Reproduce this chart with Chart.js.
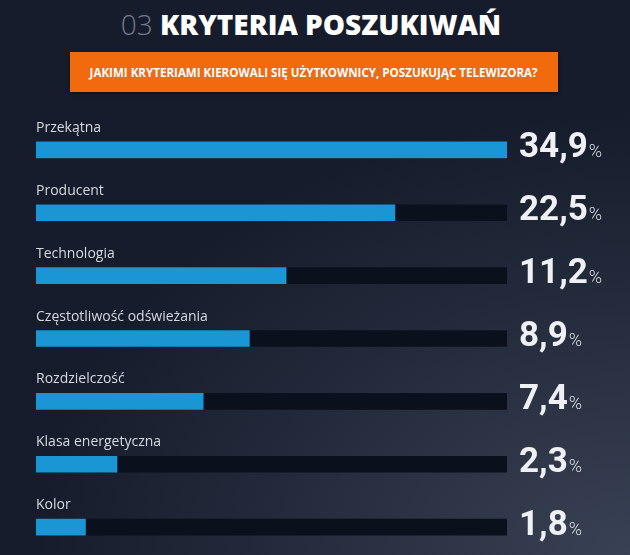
<!DOCTYPE html>
<html lang="pl">
<head>
<meta charset="utf-8">
<title>Kryteria poszukiwań</title>
<script src="https://cdn.jsdelivr.net/npm/chart.js@4.4.1/dist/chart.umd.min.js"></script>
<style>
  html, body { margin: 0; padding: 0; }
  body {
    width: 630px; height: 555px; overflow: hidden; position: relative;
    background: radial-gradient(ellipse 700px 520px at 100% 100%, #394254 0%, #252d3e 45%, #161c2b 85%);
    background-color: #161c2b;
    font-family: "Open Sans", sans-serif;
  }
  #title {
    position: absolute; top: 1px; left: 0; width: 630px;
    display: flex; justify-content: center;
    font-size: 28px; line-height: 46px; white-space: nowrap;
  }
  #title .inner { display: inline-block; margin-left: -8px; }
  #title .num { color: #6f7c92; font-weight: 300; }
  #title .txt { color: #ffffff; font-weight: 800; }
  #question {
    position: absolute; left: 70px; top: 52px; width: 488px; height: 40px;
    background: #f26a0e; box-shadow: 0 2px 3px rgba(0,0,0,0.35);
    display: flex; justify-content: center; align-items: center;
    color: #fff; font-weight: 700; font-size: 13px;
    white-space: nowrap; overflow: hidden;
  }
  #question span { display: inline-block; flex: none; transform-origin: center; }
  #wrap { position: absolute; left: 0; top: 0; width: 630px; height: 560px; }
</style>
</head>
<body>
<div id="title"><span class="inner"><span class="num">03</span> <span class="txt">KRYTERIA POSZUKIWAŃ</span></span></div>
<div id="question"><span id="qtext">JAKIMI KRYTERIAMI KIEROWALI SIĘ UŻYTKOWNICY, POSZUKUJĄC TELEWIZORA?</span></div>
<div id="wrap"><canvas id="chart"></canvas></div>
<script>
// categories and values as shown on the picture
const categories = ['Przekątna', 'Producent', 'Technologia', 'Częstotliwość odświeżania', 'Rozdzielczość', 'Klasa energetyczna', 'Kolor'];
const percentLabels = ['34,9', '22,5', '11,2', '8,9', '7,4', '2,3', '1,8'];
// filled share of each track (0-100)
const barFill = [100, 76.2, 53.1, 45.3, 35.5, 17.2, 10.5];
const trackFull = [100, 100, 100, 100, 100, 100, 100];

// squeeze the question text into the orange box like the condensed original
function fitQuestion() {
    const q = document.getElementById('qtext');
    q.style.transform = 'none';
    const qw = q.getBoundingClientRect().width;
    q.style.transform = 'scaleX(' + (448 / qw) + ')';
}
fitQuestion();
document.fonts.ready.then(fitQuestion);

const labelsPlugin = {
    id: 'rowLabels',
    afterDatasetsDraw(chart) {
        const ctx = chart.ctx;
        const y = chart.scales.y;
        ctx.save();
        categories.forEach((name, i) => {
            const cy = y.getPixelForValue(i);
            ctx.textBaseline = 'alphabetic';
            ctx.textAlign = 'left';

            ctx.fillStyle = '#d5d9e0';
            ctx.font = '400 14px "Open Sans"';
            ctx.fillText(name, 36, cy - 18);

            ctx.fillStyle = '#eef0f3';
            ctx.font = '700 35px Roboto';
            ctx.fillText(percentLabels[i], 519, cy + 7.5);
            const w = ctx.measureText(percentLabels[i]).width;
            ctx.font = '300 18px Roboto';
            ctx.fillStyle = '#d9dde3';
            ctx.fillText('%', 519 + w + 1, cy + 7.5);
        });
        ctx.restore();
    }
};

new Chart(document.getElementById('chart').getContext('2d'), {
    type: 'bar',
    data: {
        labels: categories,
        datasets: [{
            label: 'fill',
            data: barFill,
            backgroundColor: '#1a96d4',
            borderWidth: 0,
            barThickness: 16,
            grouped: false,
            order: 1
        }, {
            label: 'track',
            data: trackFull,
            backgroundColor: '#0b101d',
            borderWidth: 0,
            barThickness: 16,
            grouped: false,
            order: 2
        }]
    },
    options: {
        indexAxis: 'y',
        responsive: true,
        maintainAspectRatio: false,
        animation: false,
        layout: { padding: { left: 36, right: 123, top: 118.5, bottom: 1.5 } },
        scales: {
            x: { display: false, min: 0, max: 100 },
            y: { display: false }
        },
        plugins: {
            legend: { display: false },
            tooltip: { enabled: false }
        }
    },
    plugins: [labelsPlugin]
});
</script>
</body>
</html>
